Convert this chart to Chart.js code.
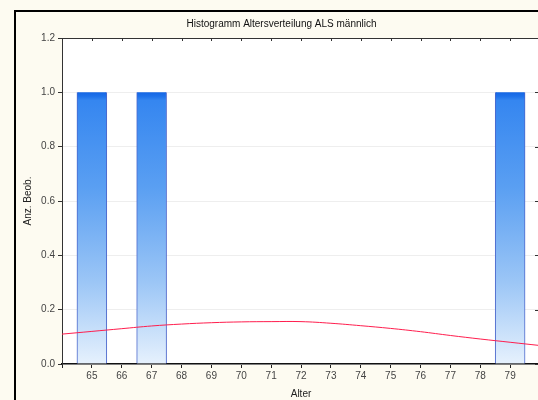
<!DOCTYPE html>
<html>
<head>
<meta charset="utf-8">
<script src="https://cdn.jsdelivr.net/npm/chart.js@4.4.0/dist/chart.umd.min.js"></script>
<style>
  html, body { margin: 0; padding: 0; background: #fdfbf1; overflow: hidden; }
  #wrap { width: 538px; height: 400px; position: relative; overflow: hidden; }
</style>
</head>
<body>
<div id="wrap"><canvas id="c" width="542" height="400"></canvas></div>
<script>
// Histogram data: age classes and observed counts
const categories = [65, 66, 67, 68, 69, 70, 71, 72, 73, 74, 75, 76, 77, 78, 79];
const counts     = [1, 0, 1, 0, 0, 0, 0, 0, 0, 0, 0, 0, 0, 0, 1];

// Fitted normal curve
const curveX = [64, 65, 66, 67, 68, 69, 70, 71, 72, 73, 74, 75, 76, 77, 78, 79, 80];
const curveY = [0.110, 0.120, 0.130, 0.140, 0.147, 0.152, 0.155, 0.156, 0.156, 0.150, 0.141, 0.131, 0.119, 0.105, 0.092, 0.080, 0.068];

// Axis settings
const xMin = 64, xMax = 80;
const yTicks = [0.0, 0.2, 0.4, 0.6, 0.8, 1.0, 1.2];

const FONT = "'Liberation Sans', Arial, sans-serif";

const framePlugin = {
  id: 'frame',
  beforeDraw(chart) {
    const { ctx, chartArea: ca } = chart;
    ctx.save();
    ctx.fillStyle = '#fdfbf1';
    ctx.fillRect(0, 0, chart.width, chart.height);
    ctx.fillStyle = '#ffffff';
    ctx.fillRect(ca.left, ca.top, ca.right - ca.left, ca.bottom - ca.top);
    // outer black frame (cropped at right/bottom)
    ctx.strokeStyle = '#000';
    ctx.lineWidth = 2;
    ctx.beginPath();
    ctx.moveTo(15, chart.height);
    ctx.lineTo(15, 11);
    ctx.lineTo(chart.width, 11);
    ctx.stroke();
    ctx.restore();
  },
  afterDraw(chart) {
    const { ctx, chartArea: ca, scales } = chart;
    ctx.save();
    ctx.strokeStyle = '#333';
    ctx.lineWidth = 1;
    // top border line
    ctx.beginPath();
    ctx.moveTo(ca.left, ca.top + 0.5);
    ctx.lineTo(chart.width, ca.top + 0.5);
    ctx.stroke();
    // mirrored ticks on top
    ctx.beginPath();
    scales.x.ticks.forEach(t => {
      const px = Math.round(scales.x.getPixelForValue(t.value)) + 0.5;
      ctx.moveTo(px, ca.top);
      ctx.lineTo(px, ca.top + 3);
    });
    // mirrored ticks on right
    scales.y.ticks.forEach(t => {
      const py = Math.round(scales.y.getPixelForValue(t.value)) + 0.5;
      ctx.moveTo(ca.right, py);
      ctx.lineTo(ca.right - 5, py);
    });
    ctx.stroke();
    ctx.restore();
  }
};

const maxCount = Math.max(...counts);

new Chart(document.getElementById('c'), {
  type: 'bar',
  data: {
    datasets: [
      {
        type: 'line',
        label: 'Normal',
        data: curveX.map((x, i) => ({ x, y: curveY[i] })),
        borderColor: '#ff1e4e',
        borderWidth: 1,
        pointRadius: 0,
        tension: 0.4,
        order: 0
      },
      {
        type: 'bar',
        label: 'Anz. Beob.',
        data: categories.map((c, i) => ({ x: c, y: counts[i] })),
        backgroundColor: (ctx) => {
          const chart = ctx.chart;
          if (!chart.chartArea) return '#3c8cf0';
          const ys = chart.scales.y;
          const top = ys.getPixelForValue(maxCount);
          const bot = ys.getPixelForValue(0);
          const g = chart.ctx.createLinearGradient(0, top, 0, bot);
          g.addColorStop(0, '#1466e4');
          g.addColorStop(0.015, '#1e72ea');
          g.addColorStop(0.03, '#3586f0');
          g.addColorStop(0.35, '#5a9ff2');
          g.addColorStop(0.7, '#9cc6f6');
          g.addColorStop(1, '#e6f1fd');
          return g;
        },
        borderColor: '#4a66cc',
        borderWidth: { left: 1, right: 1, top: 0, bottom: 0 },
        borderSkipped: 'start',
        barPercentage: 1.0,
        categoryPercentage: 1.0,
        order: 1
      }
    ]
  },
  options: {
    responsive: false,
    animation: false,
    layout: { padding: { top: 10, left: 22, right: 1, bottom: 0 } },
    plugins: {
      legend: { display: false },
      tooltip: { enabled: false },
      title: {
        display: true,
        text: 'Histogramm Altersverteilung ALS männlich',
        color: '#111',
        font: { family: FONT, size: 10, weight: 'normal' },
        padding: { top: 8, bottom: 8 }
      }
    },
    scales: {
      x: {
        type: 'linear',
        min: xMin,
        max: xMax,
        offset: false,
        afterFit: (s) => { s.height = 36; },
        ticks: {
          stepSize: 1,
          autoSkip: false,
          maxRotation: 0,
          color: '#444',
          padding: 2,
          font: { family: FONT, size: 10 },
          callback: (v) => (v >= categories[0] && v <= categories[categories.length - 1]) ? String(v) : ''
        },
        grid: { offset: false, drawOnChartArea: false, drawTicks: true, tickLength: 4, color: '#222' },
        border: { color: '#111', width: 1.5 },
        title: {
          display: true,
          text: 'Alter',
          color: '#222',
          font: { family: FONT, size: 10 },
          padding: { top: 0, bottom: 0 }
        }
      },
      y: {
        min: yTicks[0],
        max: yTicks[yTicks.length - 1],
        afterFit: (s) => { s.width = 40; },
        afterBuildTicks: (s) => { s.ticks = yTicks.map(v => ({ value: v })); },
        ticks: {
          color: '#444',
          padding: 3,
          font: { family: FONT, size: 10 },
          callback: (v) => Number(v).toFixed(1)
        },
        grid: { color: '#eeeeee', tickColor: '#333', tickLength: 4 },
        border: { color: '#333', width: 1 },
        title: {
          display: true,
          text: 'Anz. Beob.',
          color: '#222',
          font: { family: FONT, size: 10 },
          padding: { top: 0, bottom: 0 }
        }
      }
    }
  },
  plugins: [framePlugin]
});
</script>
</body>
</html>
